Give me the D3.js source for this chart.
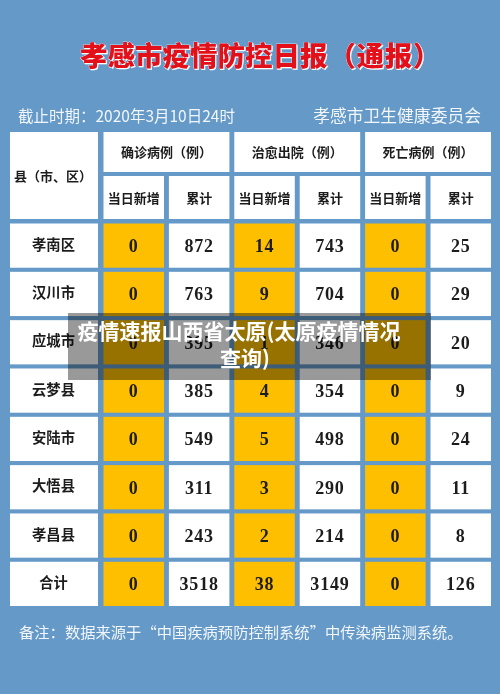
<!DOCTYPE html>
<html><head><meta charset="utf-8">
<script src="https://cdn.jsdelivr.net/npm/d3@7"></script>
<style>html,body{margin:0;padding:0;background:#6499c8;overflow:hidden}svg{display:block;filter:blur(0.35px)}</style>
</head><body><div id="chart"></div>
<script>
const titleMain = "孝感市疫情防控日报";
const titleTail = "（通报）";
const dateLabel = "截止时期：2020年3月10日24时";
const sourceLabel = "孝感市卫生健康委员会";
const noteLabel = "备注：数据来源于“中国疾病预防控制系统”中传染病监测系统。";
const overlayLines = ["疫情速报山西省太原(太原疫情情况", "查询)"];
const cornerLabel = "县（市、区）";
const groups = ["确诊病例（例）", "治愈出院（例）", "死亡病例（例）"];
const subHeads = ["当日新增", "累计"];
const counties = ["孝南区","汉川市","应城市","云梦县","安陆市","大悟县","孝昌县","合计"];
const confirmedNew = [0,0,0,0,0,0,0,0];
const confirmedTotal = [872,763,395,385,549,311,243,3518];
const curedNew = [14,9,1,4,5,3,2,38];
const curedTotal = [743,704,346,354,498,290,214,3149];
const deathNew = [0,0,0,0,0,0,0,0];
const deathTotal = [25,29,20,9,24,11,8,126];
const seriesValues = [confirmedNew, confirmedTotal, curedNew, curedTotal, deathNew, deathTotal];

const W = 500, H = 694;
const SANS = "'Noto Sans CJK SC','Noto Sans',sans-serif";
const SERIF = "'Liberation Serif','Noto Sans CJK SC',serif";
const svg = d3.select("#chart").append("svg").attr("width", W).attr("height", H);
svg.append("rect").attr("width", W).attr("height", H).attr("fill", "#6499c8");

const col = d3.scaleBand().domain(d3.range(6)).range([103.5, 491]).paddingInner(0.075);
const row = d3.scaleBand().domain(counties).range([223.5, 606]).paddingInner(0.085);
const countyX = [10, 98];
const white = "#ffffff", amber = "#fdbf00", ink = "#1c1c1c";

const titleText = svg.append("text").attr("x", 80).attr("y", 66)
  .attr("font-family", SANS).attr("font-weight", 900).attr("font-size", 27.5)
  .attr("fill", "#e3101a").attr("stroke", "#fff").attr("stroke-width", 0.5).attr("paint-order", "stroke")
  .attr("style", "filter:drop-shadow(1px 1px 0 #fff)");
titleText.append("tspan").text(titleMain);
titleText.append("tspan").text(titleTail).attr("dx", 1).attr("letter-spacing", 0.6);

svg.append("text").text(dateLabel).attr("x", 18).attr("y", 122)
  .attr("font-family", SANS).attr("font-size", 15.5).attr("fill", "#f2f6fa");
svg.append("text").text(sourceLabel).attr("x", 481).attr("y", 122).attr("text-anchor", "end")
  .attr("font-family", SANS).attr("font-size", 16.8).attr("fill", "#f2f6fa");
svg.append("text").text(noteLabel).attr("x", 19).attr("y", 638)
  .attr("font-family", SANS).attr("font-size", 15.3).attr("fill", "#f2f6fa");

svg.append("rect").attr("x", countyX[0]).attr("y", 132).attr("width", countyX[1]-countyX[0]).attr("height", 87).attr("fill", white);
svg.append("text").text(cornerLabel).attr("x", 53).attr("y", 181).attr("text-anchor", "middle")
  .attr("font-family", SANS).attr("font-weight", 700).attr("font-size", 13).attr("fill", ink);

groups.forEach((g, i) => {
  const x0 = col(i * 2), x1 = col(i * 2 + 1) + col.bandwidth();
  svg.append("rect").attr("x", x0).attr("y", 132).attr("width", x1 - x0).attr("height", 40).attr("fill", white);
  svg.append("text").text(g).attr("x", (x0 + x1) / 2).attr("y", 157).attr("text-anchor", "middle")
    .attr("font-family", SANS).attr("font-weight", 700).attr("font-size", 13).attr("fill", ink);
});
d3.range(6).forEach(i => {
  svg.append("rect").attr("x", col(i)).attr("y", 176).attr("width", col.bandwidth()).attr("height", 43).attr("fill", white);
  svg.append("text").text(subHeads[i % 2]).attr("x", col(i) + col.bandwidth() / 2).attr("y", 203).attr("text-anchor", "middle")
    .attr("font-family", SANS).attr("font-weight", 700).attr("font-size", 13).attr("fill", ink);
});

const cRows = svg.append("g").selectAll("g").data(counties).join("g");
cRows.append("rect").attr("x", countyX[0]).attr("y", d => row(d)).attr("width", countyX[1]-countyX[0])
  .attr("height", row.bandwidth()).attr("fill", white);
cRows.append("text").text(d => d).attr("x", 53.5).attr("y", d => row(d) + row.bandwidth() / 2 + 4)
  .attr("text-anchor", "middle").attr("font-family", SANS).attr("font-weight", 700)
  .attr("font-size", 14.3).attr("fill", ink);

seriesValues.forEach((vals, i) => {
  const g = svg.append("g");
  g.selectAll("rect").data(vals).join("rect")
    .attr("x", col(i)).attr("y", (d, k) => row(counties[k]))
    .attr("width", col.bandwidth()).attr("height", row.bandwidth())
    .attr("fill", i % 2 ? white : amber);
  g.selectAll("text").data(vals).join("text").text(d => d)
    .attr("x", col(i) + col.bandwidth() / 2)
    .attr("y", (d, k) => row(counties[k]) + row.bandwidth() / 2 + 6.5)
    .attr("text-anchor", "middle").attr("font-family", SERIF).attr("font-weight", 700)
    .attr("font-size", 18).attr("letter-spacing", 0.8).attr("fill", ink);
});

svg.append("rect").attr("x", 68).attr("y", 313).attr("width", 363).attr("height", 67)
  .attr("fill", "#000").attr("fill-opacity", 0.4);
svg.append("text").text(overlayLines[0]).attr("x", 239).attr("y", 339).attr("text-anchor", "middle")
  .attr("font-family", SANS).attr("font-weight", 700).attr("font-size", 21).attr("fill", "#fff");
svg.append("text").text(overlayLines[1]).attr("x", 245).attr("y", 366).attr("text-anchor", "middle")
  .attr("font-family", SANS).attr("font-weight", 700).attr("font-size", 21).attr("fill", "#fff");
</script></body></html>
